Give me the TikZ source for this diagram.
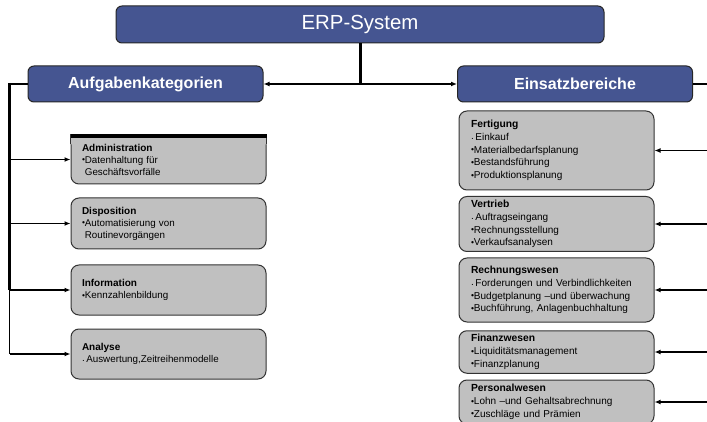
\documentclass[tikz,border=0pt]{standalone}
\usepackage{fontspec}
\setmainfont{Liberation Sans}
\usepackage{graphicx}
\usetikzlibrary{arrows.meta}
\usetikzlibrary{calc}

\definecolor{erpblue}{RGB}{69,85,145}
\definecolor{boxgray}{RGB}{192,192,192}

\newcommand{\itm}{\raisebox{0.1ex}{\scalebox{0.85}{•}}}
\newcommand{\dotitm}{\raisebox{0.25ex}{.}\,}
\newcommand{\lttl}[1]{{\bfseries\fontsize{10}{12}\selectfont #1}}
\newcommand{\rttl}[1]{{\bfseries\fontsize{10.3}{12.7}\selectfont #1}}

\tikzset{
  head/.style={draw=black!85, line width=1pt, fill=erpblue, rounded corners=6pt,
    text=white, font=\bfseries\fontsize{16}{18}\selectfont,
    minimum width=235pt, minimum height=36pt, inner sep=0pt},
  leftbox/.style={draw=black!80, line width=1pt, fill=boxgray, rounded corners=8pt,
    minimum width=195pt, text width=173pt, inner xsep=11pt, inner ysep=0pt,
    align=left, font=\fontsize{9.8}{12}\selectfont},
  rightbox/.style={leftbox, text width=171pt, inner xsep=12pt,
    font=\fontsize{10}{12.7}\selectfont},
  link/.style={line width=1.8pt, -{Latex[length=6pt,width=5pt]}},
  trunk/.style={line width=3pt},
}

\begin{document}
\begin{tikzpicture}[x=1pt,y=-1pt]
\useasboundingbox (0,0) rectangle (707,422);

% top level
\node[head, minimum width=488pt, minimum height=37pt, font=\fontsize{20.4}{24}\selectfont] (erp) at (360,24.5) {ERP-System};
\node[head] (aufg) at (145.5,84) {Aufgabenkategorien};
\node[head] (einsatz) at (575,84) {Einsatzbereiche};

\draw[trunk] (erp.south) -- (erp.south |- einsatz.west);
\draw[line width=1.8pt, {Latex[length=6pt,width=5pt]}-{Latex[length=6pt,width=5pt]}] (aufg.east) -- (einsatz.west);

% Aufgabenkategorien
\coordinate (spine) at (9.5,84);
\node[leftbox, minimum height=49pt] (adm) at (168.5,159.5) {\lttl{Administration}\\ \itm Datenhaltung für\\ \hphantom{\itm}Geschäftsvorfälle};
% square top corners with black bar
\fill[boxgray] (adm.north west) rectangle ($(adm.north west)+(9,10)$)
  (adm.north east) rectangle ($(adm.north east)+(-9,10)$);
\draw[black!80, line width=1pt] ($(adm.north west)+(0,10)$) -- (adm.north west)
  (adm.north east) -- ($(adm.north east)+(0,10)$);
\fill (adm.north west) rectangle ($(adm.north east)+(0,4)$);
\node[leftbox, minimum height=51pt] (disp) at (168.5,223.5) {\lttl{Disposition}\\ \itm Automatisierung von\\ \hphantom{\itm}Routinevorgängen};
\node[leftbox, minimum height=50pt] (info) at (168.5,290) {\lttl{Information}\\ \itm Kennzahlenbildung};
\node[leftbox, minimum height=50pt] (ana) at (168.5,354) {\lttl{Analyse}\\ \dotitm Auswertung,Zeitreihenmodelle};

\draw[line width=2pt] (aufg.west) -- (spine);
\draw[trunk] ($(spine)+(0,-1)$) -- (spine |- info.west);
\draw[line width=1.8pt] (spine |- info.west) -- (spine |- ana.west);
\foreach \n in {adm,disp,info,ana}
  \draw[link] (spine |- \n.west) -- (\n.west);

% Einsatzbereiche
\coordinate (rail) at (707,84);
\draw[line width=2pt] (einsatz.east) -- (rail);
\node[rightbox, minimum height=79pt] (fert) at (556.5,150.5) {\rttl{Fertigung}\\ \dotitm Einkauf\\ \itm Materialbedarfsplanung\\ \itm Bestandsführung\\ \itm Produktionsplanung};
\node[rightbox, minimum height=55pt] (vert) at (556.5,224) {\rttl{Vertrieb}\\ \dotitm Auftragseingang\\ \itm Rechnungsstellung\\ \itm Verkaufsanalysen};
\node[rightbox, minimum height=64pt] (rech) at (556.5,290) {\rttl{Rechnungswesen}\\ \dotitm Forderungen und Verbindlichkeiten\\ \itm Budgetplanung –und überwachung\\ \itm Buchführung, Anlagenbuchhaltung};
\node[rightbox, minimum height=42.5pt] (fin) at (556.5,352) {\rttl{Finanzwesen}\\ \itm Liquiditätsmanagement\\ \itm Finanzplanung};
\node[rightbox, minimum height=44pt] (pers) at (556.5,402) {\rttl{Personalwesen}\\ \itm Lohn –und Gehaltsabrechnung\\ \itm Zuschläge und Prämien};

\foreach \n in {fert,vert,rech,fin,pers}
  \draw[link, line width=1.5pt] (rail |- \n.east) -- (\n.east);

\end{tikzpicture}
\end{document}
